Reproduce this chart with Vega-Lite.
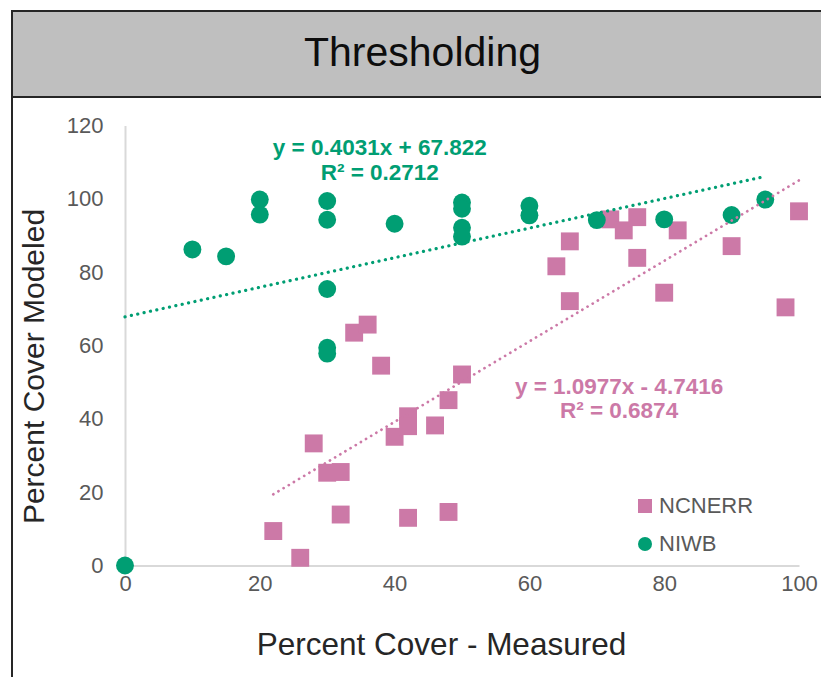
{
  "$schema": "https://vega.github.io/schema/vega-lite/v6.json",
  "padding": {"left": 11, "top": 10, "right": 0, "bottom": 0},
  "background": "white",
  "columns": 1,
  "bounds": "flush",
  "spacing": 0,
  "config": {
    "font": "Liberation Sans",
    "view": {"stroke": null},
    "axis": {
      "grid": false,
      "ticks": false,
      "labelFlush": false,
      "domainColor": "#d9d9d9",
      "domainWidth": 2,
      "labelColor": "#595959",
      "labelFontSize": 22,
      "labelFont": "Liberation Sans",
      "titleColor": "#262626",
      "titleFontSize": 30,
      "titleFontWeight": "normal",
      "titleFont": "Liberation Sans"
    }
  },
  "datasets": {
    "pts": [
      {"series": "NCNERR", "x": 22, "y": 9.4},
      {"series": "NCNERR", "x": 26, "y": 2.1},
      {"series": "NCNERR", "x": 28, "y": 33.3},
      {"series": "NCNERR", "x": 30, "y": 25.3},
      {"series": "NCNERR", "x": 32, "y": 25.5},
      {"series": "NCNERR", "x": 32, "y": 13.9},
      {"series": "NCNERR", "x": 34, "y": 63.5},
      {"series": "NCNERR", "x": 36, "y": 65.7},
      {"series": "NCNERR", "x": 38, "y": 54.5},
      {"series": "NCNERR", "x": 40, "y": 35.1},
      {"series": "NCNERR", "x": 42, "y": 40.7},
      {"series": "NCNERR", "x": 42, "y": 38.0},
      {"series": "NCNERR", "x": 42, "y": 13.0},
      {"series": "NCNERR", "x": 46, "y": 38.2},
      {"series": "NCNERR", "x": 48, "y": 45.1},
      {"series": "NCNERR", "x": 48, "y": 14.6},
      {"series": "NCNERR", "x": 50, "y": 52.1},
      {"series": "NCNERR", "x": 64, "y": 81.6},
      {"series": "NCNERR", "x": 66, "y": 88.4},
      {"series": "NCNERR", "x": 66, "y": 72.1},
      {"series": "NCNERR", "x": 72, "y": 94.4},
      {"series": "NCNERR", "x": 74, "y": 91.4},
      {"series": "NCNERR", "x": 76, "y": 95.0},
      {"series": "NCNERR", "x": 76, "y": 83.9},
      {"series": "NCNERR", "x": 80, "y": 74.4},
      {"series": "NCNERR", "x": 82, "y": 91.4},
      {"series": "NCNERR", "x": 90, "y": 87.1},
      {"series": "NCNERR", "x": 98, "y": 70.4},
      {"series": "NCNERR", "x": 100, "y": 96.6},
      {"series": "NIWB", "x": 0, "y": 0},
      {"series": "NIWB", "x": 10, "y": 86.2},
      {"series": "NIWB", "x": 15, "y": 84.3},
      {"series": "NIWB", "x": 20, "y": 99.8},
      {"series": "NIWB", "x": 20, "y": 95.7},
      {"series": "NIWB", "x": 30, "y": 99.4},
      {"series": "NIWB", "x": 30, "y": 94.3},
      {"series": "NIWB", "x": 30, "y": 75.4},
      {"series": "NIWB", "x": 30, "y": 59.4},
      {"series": "NIWB", "x": 30, "y": 57.8},
      {"series": "NIWB", "x": 40, "y": 93.2},
      {"series": "NIWB", "x": 50, "y": 99.0},
      {"series": "NIWB", "x": 50, "y": 97.3},
      {"series": "NIWB", "x": 50, "y": 92.1},
      {"series": "NIWB", "x": 50, "y": 89.7},
      {"series": "NIWB", "x": 60, "y": 98.1},
      {"series": "NIWB", "x": 60, "y": 95.5},
      {"series": "NIWB", "x": 70, "y": 94.2},
      {"series": "NIWB", "x": 80, "y": 94.4},
      {"series": "NIWB", "x": 90, "y": 95.6},
      {"series": "NIWB", "x": 95, "y": 99.8}
    ],
    "fit": [
      {"series": "NIWB", "x": 0, "y": 67.822},
      {"series": "NIWB", "x": 95, "y": 106.12},
      {"series": "NCNERR", "x": 22, "y": 19.41},
      {"series": "NCNERR", "x": 100, "y": 105.03}
    ],
    "eq": [
      {"series": "NIWB", "x": 37.8, "y": 113.9, "label": "y = 0.4031x + 67.822"},
      {"series": "NIWB", "x": 37.8, "y": 107.1, "label": "R² = 0.2712"},
      {"series": "NCNERR", "x": 73.3, "y": 48.7, "label": "y = 1.0977x - 4.7416"},
      {"series": "NCNERR", "x": 73.3, "y": 42.1, "label": "R² = 0.6874"}
    ],
    "title": [{"t": "Thresholding"}]
  },
  "concat": [
    {
      "width": 811,
      "height": 86,
      "view": {"fill": "#bfbfbf", "stroke": "#262626", "strokeWidth": 2},
      "data": {"name": "title"},
      "mark": {"type": "text", "fontSize": 41, "color": "#0d0d0d", "dx": 5, "baseline": "middle", "font": "Liberation Sans"},
      "encoding": {"text": {"field": "t", "type": "nominal"}}
    },
    {
      "width": 811,
      "height": 582,
      "view": {"fill": "white", "stroke": "#262626", "strokeWidth": 2},
      "layer": [
        {
          "data": {"name": "pts"},
          "mark": {"type": "point", "filled": true, "opacity": 1, "size": 320},
          "encoding": {
            "x": {
              "field": "x", "type": "quantitative",
              "scale": {"domain": [0, 100], "range": [113, 787], "nice": false},
              "axis": {"values": [0, 20, 40, 60, 80, 100], "offset": -113.5, "labelPadding": 8, "title": "Percent Cover - Measured", "titleFontSize": 31.5, "titleX": 429, "titleY": 80, "titleBaseline": "middle", "titleAlign": "center"}
            },
            "y": {
              "field": "y", "type": "quantitative",
              "scale": {"domain": [0, 120], "range": [468.5, 28.5], "nice": false},
              "axis": {"values": [0, 20, 40, 60, 80, 100, 120], "offset": -113, "labelPadding": 22, "title": "Percent Cover Modeled", "titleX": -91, "titleY": 269, "titleBaseline": "middle", "titleAlign": "center", "titleAngle": 270}
            },
            "color": {
              "field": "series", "type": "nominal",
              "scale": {"domain": ["NCNERR", "NIWB"], "range": ["#cc79a7", "#009e73"]},
              "legend": {"title": null, "orient": "none", "legendX": 622, "legendY": 484, "symbolSize": 196, "labelFontSize": 22, "labelColor": "#595959", "labelFont": "Liberation Sans", "rowPadding": 16, "labelOffset": 3, "symbolStrokeWidth": 0, "symbolOpacity": 1}
            },
            "shape": {
              "field": "series", "type": "nominal",
              "scale": {"domain": ["NCNERR", "NIWB"], "range": ["square", "circle"]}
            }
          }
        },
        {
          "data": {"name": "fit"},
          "transform": [{"filter": "datum.series == 'NIWB'"}],
          "mark": {"type": "line", "color": "#009e73", "strokeWidth": 3.2, "strokeDash": [0.1, 6.4], "strokeCap": "round"},
          "encoding": {"x": {"field": "x", "type": "quantitative"}, "y": {"field": "y", "type": "quantitative"}}
        },
        {
          "data": {"name": "fit"},
          "transform": [{"filter": "datum.series == 'NCNERR'"}],
          "mark": {"type": "line", "color": "#cc79a7", "strokeWidth": 2.7, "strokeDash": [0.1, 5.9], "strokeCap": "round"},
          "encoding": {"x": {"field": "x", "type": "quantitative"}, "y": {"field": "y", "type": "quantitative"}}
        },
        {
          "data": {"name": "eq"},
          "transform": [{"filter": "datum.series == 'NIWB'"}],
          "mark": {"type": "text", "fontSize": 22.5, "fontWeight": "bold", "color": "#009e73", "font": "Liberation Sans"},
          "encoding": {"x": {"field": "x", "type": "quantitative"}, "y": {"field": "y", "type": "quantitative"}, "text": {"field": "label", "type": "nominal"}}
        },
        {
          "data": {"name": "eq"},
          "transform": [{"filter": "datum.series == 'NCNERR'"}],
          "mark": {"type": "text", "fontSize": 22.5, "fontWeight": "bold", "color": "#cc79a7", "font": "Liberation Sans"},
          "encoding": {"x": {"field": "x", "type": "quantitative"}, "y": {"field": "y", "type": "quantitative"}, "text": {"field": "label", "type": "nominal"}}
        }
      ]
    }
  ]
}
